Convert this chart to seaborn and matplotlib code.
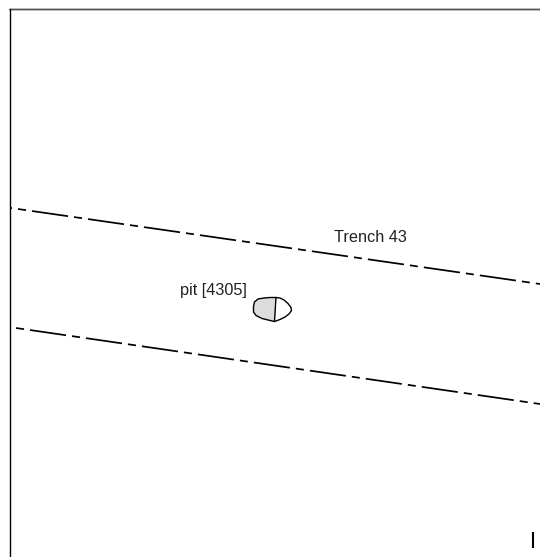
import pandas as pd
import seaborn as sns
import matplotlib.pyplot as plt

# coordinates of the section drawing (pixels, y down)
upper_x = [11, 540]
upper_y = [208, 284]
lower_x = [16, 540]
lower_y = [328, 404]

top_x = [10, 540]
top_y = [9.5, 9.5]
left_x = [10.5, 10.5]
left_y = [9.5, 557]

scale_x = [533, 533]
scale_y = [532, 548]

pit_x = [276, 280, 284, 288, 291, 291.5, 289, 285, 280, 274.5, 268, 262, 256, 253.5, 253.5, 254.5, 258, 264, 270, 276]
pit_y = [297.5, 298, 300, 303.5, 307.5, 310.5, 314, 317, 319.5, 321.5, 320, 318.5, 315.5, 312, 306, 302, 299, 298, 297.5, 297.5]
# left half of the pit, shaded
fill_x = [276, 274.5, 268, 262, 256, 253.5, 253.5, 254.5, 258, 264, 270]
fill_y = [297.5, 321.5, 320, 318.5, 315.5, 312, 306, 302, 299, 298, 297.5]
div_x = [276, 274.5]
div_y = [297.5, 321.5]

labels = ["Trench 43", "pit [4305]"]
label_x = [334, 180]
label_y = [238, 290]

sns.set_style("white")
plt.rcParams['font.family'] = ['Liberation Sans', 'DejaVu Sans']
plt.rcParams['lines.scale_dashes'] = False

fig = plt.figure(figsize=(5.4, 5.57), dpi=100)
ax = fig.add_axes([0, 0, 1, 1])
ax.set_xlim(0, 540)
ax.set_ylim(557, 0)
ax.axis('off')

def draw(x, y, **kws):
    df = pd.DataFrame({'x': x, 'y': y})
    kws.setdefault('color', 'black')
    sns.lineplot(data=df, x='x', y='y', sort=False, estimator=None, errorbar=None,
                 ax=ax, legend=False, **kws)
    ax.set_xlim(0, 540)
    ax.set_ylim(557, 0)

# limit of trench, long-short dash
pattern = (26.2, 4.36, 5.8, 4.36)
draw(upper_x, upper_y, linewidth=1.25, linestyle=(25.46, pattern), dash_capstyle='butt')
draw(lower_x, lower_y, linewidth=1.25, linestyle=(30.55, pattern), dash_capstyle='butt')

draw(top_x, top_y, linewidth=1.3, color='#555555', snap=False)
draw(left_x, left_y, linewidth=1.0, snap=False)
draw(scale_x, scale_y, linewidth=1.5, solid_capstyle='butt')

ax.fill(fill_x, fill_y, color='#dcdcdc', linewidth=0)
draw(pit_x, pit_y, linewidth=1.0)
draw(div_x, div_y, linewidth=1.0)

for t, lx, ly in zip(labels, label_x, label_y):
    ax.text(lx, ly, t, fontsize=11.7, color='#222222', ha='left', va='center')

fig.savefig('out.png', dpi=100)
